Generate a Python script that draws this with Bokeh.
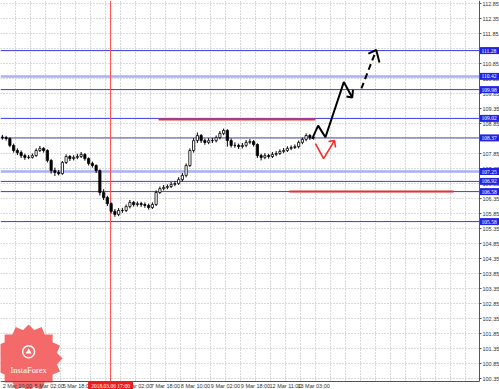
import numpy as np
from bokeh.plotting import figure
from bokeh.models import (Range1d, FixedTicker, LinearAxis, ColumnDataSource,
                          PrintfTickFormatter, BoxAnnotation)
from bokeh.embed import file_html
from bokeh.resources import INLINE

# ---------------- data ----------------
opens = [108.40, 108.38, 108.35, 108.12, 107.95, 107.88, 107.78, 107.72, 107.72, 107.78,
         107.95, 108.02, 107.95, 107.62, 107.28, 107.22, 107.18, 107.55, 107.75, 107.68,
         107.72, 107.75, 107.82, 107.68, 107.52, 107.45, 107.28, 106.55, 106.38, 106.18,
         105.92, 105.82, 105.95, 105.95, 106.08, 106.22, 106.15, 106.18, 106.15, 106.12,
         106.05, 106.15, 106.55, 106.68, 106.72, 106.75, 106.82, 106.85, 106.98, 107.12,
         107.45, 107.95, 108.28, 108.45, 108.28, 108.22, 108.28, 108.28, 108.38, 108.52,
         108.62, 108.28, 108.12, 108.12, 108.08, 108.12, 108.22, 108.25, 108.15, 107.78,
         107.72, 107.78, 107.75, 107.82, 107.85, 107.92, 107.95, 108.02, 108.05, 108.08,
         108.22, 108.32, 108.45, 108.38]
closes = [108.38, 108.35, 108.12, 107.95, 107.88, 107.78, 107.72, 107.72, 107.78, 107.95,
          108.02, 107.95, 107.62, 107.28, 107.22, 107.18, 107.55, 107.75, 107.68, 107.72,
          107.75, 107.82, 107.68, 107.52, 107.45, 107.28, 106.55, 106.38, 106.18, 105.92,
          105.82, 105.95, 105.95, 106.08, 106.22, 106.15, 106.18, 106.15, 106.12, 106.05,
          106.15, 106.55, 106.68, 106.72, 106.75, 106.82, 106.85, 106.98, 107.12, 107.45,
          107.95, 108.28, 108.45, 108.28, 108.22, 108.28, 108.28, 108.38, 108.52, 108.62,
          108.28, 108.12, 108.12, 108.08, 108.12, 108.22, 108.25, 108.15, 107.78, 107.72,
          107.78, 107.75, 107.82, 107.85, 107.92, 107.95, 108.02, 108.05, 108.08, 108.22,
          108.32, 108.45, 108.38, 108.38]
highs = [108.47, 108.44, 108.39, 108.18, 108.02, 107.95, 107.84, 107.80, 107.85, 108.02,
         108.10, 108.06, 107.99, 107.66, 107.38, 107.30, 107.60, 107.82, 107.80, 107.79,
         107.84, 107.90, 107.86, 107.72, 107.58, 107.49, 107.32, 106.66, 106.44, 106.22,
         106.00, 106.03, 106.04, 106.15, 106.30, 106.27, 106.25, 106.24, 106.22, 106.18,
         106.22, 106.62, 106.75, 106.80, 106.82, 106.90, 106.93, 107.06, 107.20, 107.52,
         108.02, 108.36, 108.55, 108.50, 108.34, 108.36, 108.37, 108.45, 108.60, 108.68,
         108.66, 108.35, 108.22, 108.18, 108.20, 108.30, 108.33, 108.30, 108.19, 107.84,
         107.86, 107.84, 107.90, 107.93, 107.99, 108.03, 108.09, 108.12, 108.15, 108.28,
         108.38, 108.52, 108.50, 108.46]
lows = [108.31, 108.28, 108.06, 107.88, 107.80, 107.70, 107.64, 107.66, 107.68, 107.74,
        107.90, 107.88, 107.55, 107.18, 107.10, 107.12, 107.14, 107.50, 107.60, 107.62,
        107.66, 107.70, 107.61, 107.45, 107.38, 107.20, 106.45, 106.30, 106.10, 105.85,
        105.74, 105.76, 105.87, 105.90, 106.02, 106.08, 106.08, 106.07, 106.04, 105.98,
        106.00, 106.10, 106.50, 106.62, 106.66, 106.70, 106.76, 106.80, 106.92, 107.06,
        107.40, 107.88, 108.20, 108.20, 108.14, 108.16, 108.20, 108.22, 108.32, 108.46,
        108.08, 108.05, 108.04, 108.00, 108.02, 108.06, 108.16, 108.08, 107.70, 107.62,
        107.66, 107.68, 107.70, 107.76, 107.80, 107.86, 107.90, 107.96, 108.00, 108.02,
        108.16, 108.26, 108.30, 108.31]

# horizontal levels (price) and their style kind
levels = [111.28, 110.42, 109.98, 109.02, 108.37, 107.25, 106.92, 106.58, 105.58]
level_kind = ["main", "light", "main", "main", "grey", "light", "main", "main", "main"]

# red support / resistance segments (bar index start/end, price)
red_prices = [108.98, 106.58]
red_start = [84.3, 154.1]
red_end = [168.0, 241.6]

# vertical red marker
vline_bar = 58.7
vline_text = "2018.03.06 17:00"

# forecast paths (bar index, price)
fc_solid_x = [166.2, 169.4, 173.3, 183.1, 187.6]
fc_solid_y = [108.34, 108.78, 108.39, 110.23, 109.72]
fc_solid_head_x = [184.5, 187.6, 188.0]
fc_solid_head_y = [109.75, 109.72, 109.97]
fc_dash_x = [192.5, 200.4]
fc_dash_y = [110.02, 111.30]
fc_dash_head_x = [196.2, 200.4, 202.1]
fc_dash_head_y = [111.18, 111.30, 110.88]
fc_red_x = [168.0, 172.3, 178.1]
fc_red_y = [108.18, 107.68, 108.28]
fc_red_head_x = [174.9, 178.1, 178.7]
fc_red_head_y = [108.25, 108.28, 108.05]

# axis ticks
y_ticks = [round(100.35 + 0.5 * k, 2) for k in range(26)]
x_tick_bars = [9, 26, 41, 57, 73, 88, 104, 120, 136, 152, 167]
x_tick_labels = ["2 Mar 10:00", "5 Mar 02:00", "5 Mar 18:00", "6 Mar 10:00", "7 Mar 02:00",
                 "7 Mar 18:00", "8 Mar 10:00", "9 Mar 02:00", "9 Mar 18:00", "12 Mar 11:00",
                 "13 Mar 03:00"]

# ---------------- figure ----------------
W, H = 499, 389
PX_PER_BAR = 1.875
PX_PER_PRICE = 30.0
Y_TOP = 112.95
X_END = 479 / PX_PER_BAR          # chart area right edge (bars)
Y_BOTTOM = Y_TOP - 381 / PX_PER_PRICE   # chart area bottom (price)

p = figure(width=W, height=H,
           x_range=Range1d(0, W / PX_PER_BAR),
           y_range=Range1d(Y_TOP - H / PX_PER_PRICE, Y_TOP),
           output_backend="svg", toolbar_location=None,
           x_axis_location=None, y_axis_location=None,
           min_border_left=0, min_border_top=0, min_border_right=0, min_border_bottom=0)
p.background_fill_color = "white"
p.border_fill_color = "white"
p.outline_line_color = None

FONT = "Liberation Sans"

# grid
p.xgrid.ticker = FixedTicker(ticks=list(np.arange(0, X_END, 8)))
p.ygrid.ticker = FixedTicker(ticks=y_ticks)
for g in (p.xgrid[0], p.ygrid[0]):
    g.grid_line_color = "#b5b5b5"
    g.grid_line_dash = "1 2"
    g.grid_line_width = 1

# blank the axis strips (right and bottom) over the grid
p.add_layout(BoxAnnotation(left=X_END, fill_color="white", fill_alpha=1, line_color=None,
                           level="underlay"))
p.add_layout(BoxAnnotation(top=Y_BOTTOM, fill_color="white", fill_alpha=1, line_color=None,
                           level="underlay"))

# axes drawn at the chart edges
yax = LinearAxis(fixed_location=X_END, bounds=(Y_BOTTOM, Y_TOP))
yax.ticker = FixedTicker(ticks=y_ticks)
yax.formatter = PrintfTickFormatter(format="%.2f")
yax.major_label_text_font_size = "5.5px"
yax.major_label_text_font = FONT
yax.major_label_text_color = "#333333"
yax.major_tick_out = 2
yax.major_tick_in = 0
yax.minor_tick_out = 0
yax.minor_tick_in = 0
yax.major_label_standoff = 1
yax.axis_line_color = "#555555"
yax.major_tick_line_color = "#555555"
p.add_layout(yax, "right")

xax = LinearAxis(fixed_location=Y_BOTTOM, bounds=(0, X_END))
xax.ticker = FixedTicker(ticks=x_tick_bars)
xax.major_label_overrides = {b: t for b, t in zip(x_tick_bars, x_tick_labels)}
xax.major_label_text_font_size = "5.5px"
xax.major_label_text_font = FONT
xax.major_label_text_color = "#333333"
xax.major_tick_out = 0
xax.major_tick_in = 0
xax.minor_tick_out = 0
xax.minor_tick_in = 0
xax.major_label_standoff = 1
xax.axis_line_color = "#555555"
p.add_layout(xax, "below")

# logo badge
logo_x, logo_y = 15.0, 101.02
p.scatter([logo_x] * 4, [logo_y] * 4, marker="square", size=48,
          angle=[0, np.pi / 8, np.pi / 4, 3 * np.pi / 8],
          fill_color="#f46a6a", line_color=None)
p.scatter([logo_x], [logo_y + 0.22], marker="circle", size=12, fill_color=None,
          line_color="white", line_width=1.5)
p.scatter([logo_x], [logo_y + 0.22], marker="triangle", size=6, fill_color="white",
          line_color=None)
p.text([logo_x], [logo_y - 0.4], text=["InstaForex"], text_color="white",
       text_font=FONT, text_font_size="8.5px", text_align="center", text_baseline="middle")

# horizontal level lines (stop at the price axis)
styles = {"main": ("#3a3ae6", 1.0), "light": ("#a9b0f5", 2.5), "grey": ("#6c6cc4", 1.3)}
for lv, kind in zip(levels, level_kind):
    c, w = styles[kind]
    p.segment(x0=[0], y0=[lv], x1=[X_END], y1=[lv], line_color=c, line_width=w)

# vertical red line
p.segment(x0=[vline_bar], y0=[Y_BOTTOM], x1=[vline_bar], y1=[Y_TOP], line_color="#ff4a4a",
          line_width=1)

# red segments
p.segment(x0=red_start, y0=red_prices, x1=red_end, y1=red_prices, line_color="#e83030",
          line_width=2)

# candles
n = len(closes)
xs = np.arange(n) * 2 + 1
o = np.array(opens); c = np.array(closes)
src = ColumnDataSource(dict(x=xs, o=o, c=c, h=highs, l=lows,
                            top=np.maximum(o, c), bottom=np.minimum(o, c),
                            fill=["white" if cc > oo else "black" for oo, cc in zip(o, c)]))
p.segment(x0="x", y0="l", x1="x", y1="h", source=src, line_color="black", line_width=1)
p.vbar(x="x", top="top", bottom="bottom", width=1.2, source=src, fill_color="fill",
       line_color="black", line_width=0.8)

# forecast
p.line(fc_solid_x, fc_solid_y, line_color="black", line_width=2)
p.line(fc_solid_head_x, fc_solid_head_y, line_color="black", line_width=2)
p.line(fc_dash_x, fc_dash_y, line_color="black", line_width=2, line_dash="6 4")
p.line(fc_dash_head_x, fc_dash_head_y, line_color="black", line_width=2)
p.line(fc_red_x, fc_red_y, line_color="#ff2a2a", line_width=1.6)
p.line(fc_red_head_x, fc_red_head_y, line_color="#ff2a2a", line_width=1.6)

# price tags on the right axis strip (drawn above the axis labels)
tag_x = X_END + 10.0 / PX_PER_BAR
p.rect(x=[tag_x] * len(levels), y=levels, width=19, height=7, width_units="screen",
       height_units="screen", fill_color="#2323e8", line_color=None, level="overlay")
p.text(x=[X_END] * len(levels), y=levels, x_offset=2, text=[f"{lv:.2f}" for lv in levels],
       text_font=FONT, text_font_size="5.5px", text_color="white", text_align="left",
       text_baseline="middle", level="overlay")

# date tag for the vertical line
tag_y = Y_BOTTOM - 4.0 / PX_PER_PRICE
p.rect(x=[vline_bar], y=[tag_y], width=45, height=8, width_units="screen",
       height_units="screen", fill_color="#ee1c1c", line_color=None, level="overlay")
p.text(x=[vline_bar], y=[tag_y], text=[vline_text], text_font=FONT, text_font_size="5.5px",
       text_color="white", text_align="center", text_baseline="middle", level="overlay")

open("out.html", "w").write(file_html(p, INLINE))
